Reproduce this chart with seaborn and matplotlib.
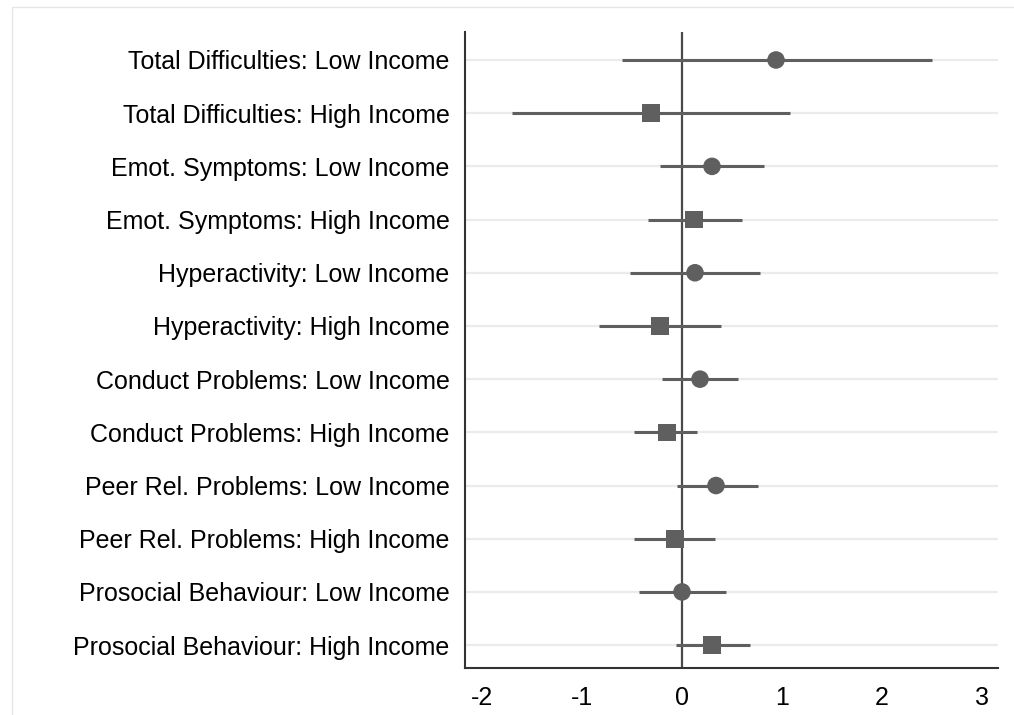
import matplotlib
matplotlib.use("Agg")
import matplotlib.pyplot as plt
import seaborn as sns
import pandas as pd
from matplotlib.patches import Rectangle

categories = [
    "Total Difficulties: Low Income",
    "Total Difficulties: High Income",
    "Emot. Symptoms: Low Income",
    "Emot. Symptoms: High Income",
    "Hyperactivity: Low Income",
    "Hyperactivity: High Income",
    "Conduct Problems: Low Income",
    "Conduct Problems: High Income",
    "Peer Rel. Problems: Low Income",
    "Peer Rel. Problems: High Income",
    "Prosocial Behaviour: Low Income",
    "Prosocial Behaviour: High Income",
]
group = ["Low", "High"] * 6
estimate = [0.94, -0.31, 0.30, 0.12, 0.13, -0.22, 0.18, -0.15, 0.34, -0.07, 0.00, 0.30]
ci_low = [-0.60, -1.70, -0.22, -0.34, -0.52, -0.83, -0.20, -0.48, -0.05, -0.48, -0.43, -0.06]
ci_high = [2.50, 1.08, 0.82, 0.60, 0.78, 0.39, 0.56, 0.15, 0.76, 0.33, 0.44, 0.68]
xticks = [-2, -1, 0, 1, 2, 3]

df = pd.DataFrame({
    "label": categories,
    "group": group,
    "est": estimate,
    "lo": ci_low,
    "hi": ci_high,
})
df["pos"] = range(len(df))

sns.set_style("white")
plt.rcParams["font.family"] = ["Liberation Sans", "DejaVu Sans"]

W, H = 1014, 715
fig = plt.figure(figsize=(W / 100, H / 100), dpi=100)
fig.patches.append(Rectangle((12 / W, -0.1), 1.2, 1.1 - 7 / H, transform=fig.transFigure,
                             fill=False, edgecolor="#e6e6e6", lw=1.0, zorder=0))
left, right, top, bottom = 465, 998, 32, 668
ax = fig.add_axes([left / W, 1 - bottom / H, (right - left) / W, (bottom - top) / H])

gray = "#5f5f5f"
# horizontal grid lines
for p in df["pos"]:
    ax.axhline(p, color="#ebebeb", lw=1.6, zorder=0)
ax.axvline(0, color="#4a4a4a", lw=1.6, zorder=1)

ax.hlines(df["pos"], df["lo"], df["hi"], color=gray, lw=2.2, zorder=2)
sns.scatterplot(data=df, x="est", y="pos", style="group",
                markers={"Low": "o", "High": "s"}, color=gray, s=160,
                edgecolor="none", legend=False, ax=ax, zorder=3)

ax.set_xlim(-2.17, 3.16)
ax.set_ylim(11.43, -0.526)
ax.set_xticks(xticks)
ax.set_xticklabels([str(t) for t in xticks])
ax.set_yticks(df["pos"])
ax.set_yticklabels(df["label"])
ax.set_xlabel("")
ax.set_ylabel("")
ax.tick_params(axis="both", which="major", labelsize=18, colors="#333333",
               labelcolor="black", length=6, width=1.5, direction="out")
ax.tick_params(axis="y", pad=5)
ax.tick_params(axis="x", pad=7)
for s in ["top", "right"]:
    ax.spines[s].set_visible(False)
for s in ["left", "bottom"]:
    ax.spines[s].set_color("#333333")
    ax.spines[s].set_linewidth(1.5)

fig.savefig("out.png", dpi=100)
